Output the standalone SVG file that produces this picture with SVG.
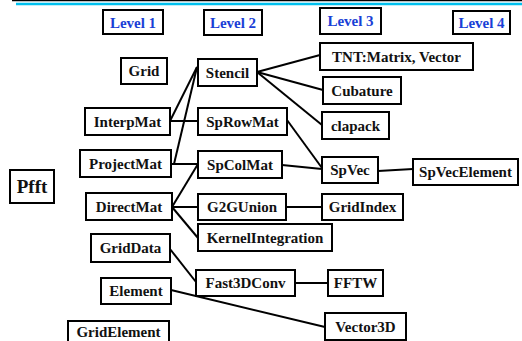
<svg xmlns="http://www.w3.org/2000/svg" width="522" height="341" viewBox="0 0 522 341">
  <style>
    text { font-family: 'Times New Roman', 'Liberation Serif', Times, serif; font-weight: bold; }
    .box { fill: #ffffff; stroke: #000000; stroke-width: 2; }
    .lbl { font-size: 15px; fill: #111111; text-anchor: middle; }
    .lvl { font-size: 15px; fill: #1a3fd6; text-anchor: middle; }
    .big { font-size: 19px; }
    .edge { stroke: #000000; stroke-width: 2; fill: none; }
  </style>

  <!-- header rules -->
  <line x1="12" y1="0.5" x2="522" y2="0.5" stroke="#000000" stroke-width="1.5"/>
  <line x1="16" y1="4" x2="522" y2="4" stroke="#00c0ee" stroke-width="2.5"/>

  <!-- level headings -->
  <g id="level1"><rect class="box" x="103" y="10" width="60" height="24"/><text class="lvl" x="133" y="27.5">Level 1</text></g>
  <g id="level2"><rect class="box" x="204" y="10" width="58" height="25"/><text class="lvl" x="233" y="28">Level 2</text></g>
  <g id="level3"><rect class="box" x="320" y="8" width="61" height="26"/><text class="lvl" x="350.5" y="26">Level 3</text></g>
  <g id="level4"><rect class="box" x="453" y="11" width="57" height="23"/><text class="lvl" x="481.5" y="27.5">Level 4</text></g>

  <!-- connectors -->
  <g id="connectors">
    <line class="edge" x1="170" y1="121" x2="197" y2="67"/>
    <line class="edge" x1="174" y1="164" x2="197" y2="67"/>
    <line class="edge" x1="170" y1="121" x2="198" y2="121"/>
    <line class="edge" x1="171" y1="164" x2="198" y2="164"/>
    <line class="edge" x1="172" y1="207" x2="198" y2="164"/>
    <line class="edge" x1="172" y1="207" x2="198" y2="207"/>
    <line class="edge" x1="172" y1="207" x2="198" y2="238"/>
    <line class="edge" x1="257" y1="72" x2="320" y2="55"/>
    <line class="edge" x1="257" y1="72" x2="323" y2="90"/>
    <line class="edge" x1="257" y1="72" x2="322" y2="125"/>
    <line class="edge" x1="287" y1="120" x2="322" y2="168"/>
    <line class="edge" x1="282" y1="165" x2="322" y2="169"/>
    <line class="edge" x1="378" y1="171" x2="413" y2="169"/>
    <line class="edge" x1="286" y1="207" x2="322" y2="207"/>
    <line class="edge" x1="170" y1="249" x2="196" y2="282"/>
    <line class="edge" x1="295" y1="283" x2="328" y2="283"/>
    <line class="edge" x1="171" y1="290" x2="325" y2="327"/>
  </g>

  <!-- nodes -->
  <g id="Grid"><rect class="box" x="121" y="58" width="46" height="26"/><text class="lbl" x="144" y="76">Grid</text></g>
  <g id="Stencil"><rect class="box" x="198" y="59" width="59" height="27"/><text class="lbl" x="227.5" y="78">Stencil</text></g>
  <g id="TNT"><rect class="box" x="320" y="43" width="153" height="27"/><text class="lbl" x="396.5" y="62">TNT:Matrix, Vector</text></g>
  <g id="Cubature"><rect class="box" x="323" y="77" width="78" height="27"/><text class="lbl" x="362" y="96">Cubature</text></g>
  <g id="clapack"><rect class="box" x="322" y="112" width="67" height="27"/><text class="lbl" x="355.5" y="131">clapack</text></g>
  <g id="InterpMat"><rect class="box" x="85" y="108" width="85" height="27"/><text class="lbl" x="127.5" y="127">InterpMat</text></g>
  <g id="SpRowMat"><rect class="box" x="198" y="108" width="89" height="27"/><text class="lbl" x="242.5" y="127">SpRowMat</text></g>
  <g id="ProjectMat"><rect class="box" x="80" y="150" width="91" height="27"/><text class="lbl" x="125.5" y="169">ProjectMat</text></g>
  <g id="SpColMat"><rect class="box" x="198" y="151" width="84" height="27"/><text class="lbl" x="240" y="170">SpColMat</text></g>
  <g id="SpVec"><rect class="box" x="322" y="157" width="56" height="26"/><text class="lbl" x="350" y="175">SpVec</text></g>
  <g id="SpVecElement"><rect class="box" x="413" y="159" width="105" height="26"/><text class="lbl" x="465.5" y="177">SpVecElement</text></g>
  <g id="Pfft"><rect class="box" x="10" y="170" width="44" height="33"/><text class="lbl big" x="32" y="193">Pfft</text></g>
  <g id="DirectMat"><rect class="box" x="86" y="193" width="86" height="27"/><text class="lbl" x="129" y="212">DirectMat</text></g>
  <g id="G2GUnion"><rect class="box" x="198" y="194" width="88" height="26"/><text class="lbl" x="242" y="212">G2GUnion</text></g>
  <g id="GridIndex"><rect class="box" x="322" y="194" width="81" height="26"/><text class="lbl" x="362.5" y="212">GridIndex</text></g>
  <g id="KernelIntegration"><rect class="box" x="198" y="224" width="134" height="27"/><text class="lbl" x="265" y="243">KernelIntegration</text></g>
  <g id="GridData"><rect class="box" x="91" y="234" width="79" height="28"/><text class="lbl" x="130.5" y="253">GridData</text></g>
  <g id="Fast3DConv"><rect class="box" x="196" y="270" width="99" height="26"/><text class="lbl" x="245.5" y="288">Fast3DConv</text></g>
  <g id="FFTW"><rect class="box" x="328" y="270" width="55" height="26"/><text class="lbl" x="355.5" y="288">FFTW</text></g>
  <g id="Element"><rect class="box" x="101" y="278" width="70" height="26"/><text class="lbl" x="136" y="296">Element</text></g>
  <g id="Vector3D"><rect class="box" x="325" y="313" width="81" height="27"/><text class="lbl" x="365.5" y="332">Vector3D</text></g>
  <g id="GridElement"><rect class="box" x="68" y="321" width="101" height="26"/><text class="lbl" x="118.5" y="337">GridElement</text></g>
</svg>
